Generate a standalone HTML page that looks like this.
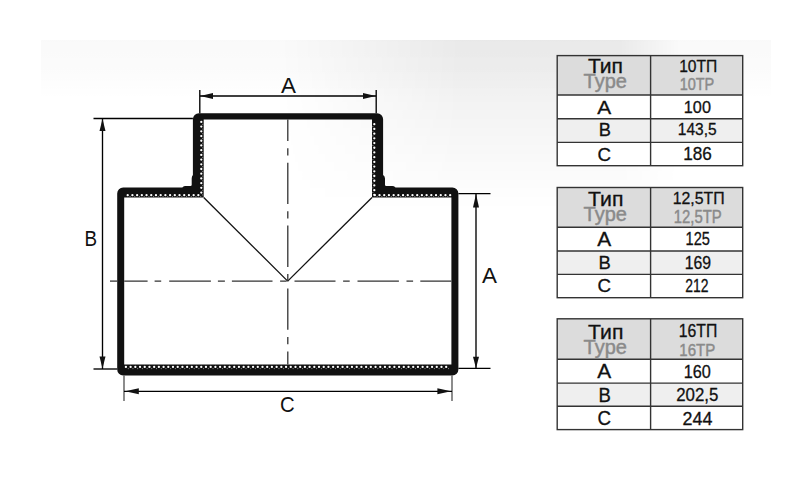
<!DOCTYPE html>
<html><head><meta charset="utf-8">
<style>
html,body{margin:0;padding:0;background:#fff;}
body{width:800px;height:500px;overflow:hidden;position:relative;}
svg{position:absolute;left:0;top:0;}
text{font-family:"Liberation Sans",sans-serif;}
</style></head>
<body>
<svg width="800" height="500" viewBox="0 0 800 500">
<defs>
  <filter id="blur3" x="-10%" y="-50%" width="120%" height="200%"><feGaussianBlur stdDeviation="1.5"/></filter>
  <linearGradient id="vfade" x1="0" y1="0" x2="0" y2="1">
    <stop offset="0" stop-color="#000" stop-opacity="0.065"/>
    <stop offset="0.35" stop-color="#000" stop-opacity="0.05"/>
    <stop offset="1" stop-color="#000" stop-opacity="0"/>
  </linearGradient>
  <linearGradient id="hfade" x1="0" y1="0" x2="1" y2="0">
    <stop offset="0" stop-color="#fff" stop-opacity="0"/>
    <stop offset="0.45" stop-color="#fff" stop-opacity="1"/>
    <stop offset="0.85" stop-color="#fff" stop-opacity="1"/>
    <stop offset="1" stop-color="#fff" stop-opacity="0"/>
  </linearGradient>
  <linearGradient id="bandfade" x1="0" y1="0" x2="0" y2="1">
    <stop offset="0" stop-color="#000" stop-opacity="0.022"/>
    <stop offset="0.55" stop-color="#000" stop-opacity="0.014"/>
    <stop offset="1" stop-color="#000" stop-opacity="0"/>
  </linearGradient>
  <mask id="hmask" maskUnits="userSpaceOnUse" x="0" y="0" width="800" height="500">
    <rect x="280" y="40" width="400" height="170" fill="url(#hfade)"/>
  </mask>
</defs>
<rect x="0" y="0" width="800" height="500" fill="#fff"/>
<rect x="41" y="40" width="730" height="60" fill="url(#bandfade)"/>
<rect x="280" y="40" width="400" height="170" fill="url(#vfade)" mask="url(#hmask)"/>

<!-- tee body -->
<path fill="#111" fill-rule="evenodd" d="M192.9,119.3 A6,6 0 0 1 198.9,113.3 L377.1,113.3 A6,6 0 0 1 383.1,119.3 L383.1,175 Q385,176.2 385,178.5 L385,184.8 Q385,186 386.2,186 L392.2,186 Q394,186 395.6,187.4 L452.4,187.4 A6,6 0 0 1 458.4,193.4 L458.4,369.6 A6,6 0 0 1 452.4,375.6 L123.2,375.6 A6,6 0 0 1 117.2,369.6 L117.2,193.4 A6,6 0 0 1 123.2,187.4 L182.3,187.4 Q183.8,186 185.5,186 L190.5,186 Q191.7,186 191.7,184.8 L191.7,178.5 Q191.7,176.3 192.9,175 Z
 M203.7,119.6 L203.7,197.5 L124.2,197.5 L124.2,364.6 L451.4,364.6 L451.4,197.5 L372,197.5 L372,119.6 Z"/>

<!-- dots -->
<g stroke="#fff" stroke-width="2.3" stroke-linecap="round" stroke-dasharray="0.01 4.7" fill="none">
  <line x1="201.3" y1="121.9" x2="201.3" y2="196"/>
  <line x1="374.3" y1="124.2" x2="374.3" y2="196"/>
  <line x1="127.7" y1="195.2" x2="201" y2="195.2"/>
  <line x1="374.8" y1="195.2" x2="450.5" y2="195.2"/>
  <line x1="125.9" y1="366.9" x2="450.5" y2="366.9"/>
</g>
<g stroke="#8a8a8a" stroke-width="1.2" stroke-linecap="round" stroke-dasharray="0.01 4.7" fill="none">
  <line x1="202.8" y1="124.3" x2="202.8" y2="196"/>
  <line x1="372.9" y1="126.55" x2="372.9" y2="196"/>
  <line x1="130.05" y1="196.5" x2="201" y2="196.5"/>
  <line x1="377.15" y1="196.5" x2="450.5" y2="196.5"/>
  <line x1="128.25" y1="368.6" x2="450.5" y2="368.6"/>
</g>

<!-- V lines -->
<g stroke="#111" stroke-width="1.3" fill="none">
  <line x1="203.7" y1="197.5" x2="287.7" y2="281.1"/>
  <line x1="372" y1="197.5" x2="287.7" y2="281.1"/>
</g>

<!-- center lines -->
<g stroke="#333" stroke-width="1.3" fill="none">
  <line x1="287.8" y1="119.6" x2="287.8" y2="364.6" stroke-dasharray="21.5 7.2 7.2 7.2 41.3 7.2 7.2 7.2 41.3 7.2 7.2 7.2 41.3 7.2 7.2 7.2 41.3 7.2 7.2 7.2 41.3"/>
  <line x1="110" y1="281.1" x2="117.2" y2="281.1"/>
  <line x1="124.2" y1="281.1" x2="451.4" y2="281.1" stroke-dasharray="23.4 7 6.6 8 41.7 7 7 7 40.6 7.6 6.6 7.8 41 7.6 6.6 7.8 41.4 7.6 6.6 7.2 41.4"/>
</g>

<!-- dimension lines -->
<g stroke="#000" stroke-width="1.35" fill="none">
  <line x1="199.8" y1="90" x2="199.8" y2="113.3"/>
  <line x1="376.2" y1="90" x2="376.2" y2="113.3"/>
  <line x1="200" y1="96" x2="376" y2="96"/>
  <line x1="93.5" y1="118.5" x2="192.9" y2="118.5"/>
  <line x1="93.5" y1="369" x2="117.2" y2="369"/>
  <line x1="102.5" y1="118.5" x2="102.5" y2="369"/>
  <line x1="458.4" y1="193.6" x2="490.5" y2="193.6"/>
  <line x1="458.4" y1="368.4" x2="490.5" y2="368.4"/>
  <line x1="476" y1="193.6" x2="476" y2="368.4"/>
  <line x1="124" y1="375.6" x2="124" y2="401" stroke="#555"/>
  <line x1="452" y1="375.6" x2="452" y2="401" stroke="#555"/>
  <line x1="124" y1="391.3" x2="452" y2="391.3"/>
</g>
<g fill="#111">
  <path d="M200.2,96 L213,93 L213,99 Z"/>
  <path d="M375.8,96 L363,93 L363,99 Z"/>
  <path d="M102.5,118.7 L99.5,131 L105.5,131 Z"/>
  <path d="M102.5,368.8 L99.5,356.5 L105.5,356.5 Z"/>
  <path d="M476,194 L473,207.5 L479,207.5 Z"/>
  <path d="M476,368.2 L473,356.8 L479,356.8 Z"/>
  <path d="M125.2,391.3 L138.8,388.3 L138.8,394.3 Z"/>
  <path d="M451,391.3 L437.4,388.3 L437.4,394.3 Z"/>
</g>

<g><text transform="translate(281.00,92.60) scale(0.9918,1)" font-size="22.61" fill="#111" stroke="#fff" stroke-width="0.00">A</text>
<text transform="translate(84.49,245.60) scale(0.8454,1)" font-size="22.32" fill="#111" stroke="#fff" stroke-width="0.00">B</text>
<text transform="translate(482.00,283.00) scale(0.9793,1)" font-size="22.90" fill="#111" stroke="#fff" stroke-width="0.00">A</text>
<text transform="translate(279.98,411.57) scale(0.9016,1)" font-size="22.54" fill="#111" stroke="#fff" stroke-width="0.00">C</text></g>
<rect x="557.2" y="55.6" width="185.5" height="110.1" fill="#fff"/>
<rect x="557.2" y="55.6" width="185.5" height="39.4" fill="#dcdcdc"/>
<rect x="557.2" y="118.8" width="185.5" height="23.6" fill="#efefef"/>
<g stroke="#333" stroke-width="1.4" fill="none">
<rect x="557.2" y="55.6" width="185.5" height="110.1"/>
<line x1="650.6" y1="55.6" x2="650.6" y2="165.7"/>
<line x1="557.2" y1="95.0" x2="742.7" y2="95.0"/>
<line x1="557.2" y1="118.8" x2="742.7" y2="118.8"/>
<line x1="557.2" y1="142.4" x2="742.7" y2="142.4"/>
</g>
<text transform="translate(587.88,72.70) scale(1.0853,1)" font-size="19.42" fill="#111" stroke="#111" stroke-width="0.30">Тип</text>
<text transform="translate(583.60,88.41) scale(1.0294,1)" font-size="19.43" fill="#8a8a8a" stroke="#8a8a8a" stroke-width="0.45">Type</text>
<text transform="translate(679.15,72.04) scale(0.9557,1)" font-size="16.34" fill="#111" stroke="#111" stroke-width="0.30">10ТП</text>
<text transform="translate(679.64,89.64) scale(0.8883,1)" font-size="16.34" fill="#8a8a8a" stroke="#8a8a8a" stroke-width="0.45">10ТР</text>
<text transform="translate(597.30,113.70) scale(1.1098,1)" font-size="18.84" fill="#111" stroke="#111" stroke-width="0.30">A</text>
<text transform="translate(683.80,113.03) scale(0.9619,1)" font-size="16.90" fill="#111" stroke="#111" stroke-width="0.30">100</text>
<text transform="translate(598.64,135.90) scale(1.0351,1)" font-size="17.68" fill="#111" stroke="#111" stroke-width="0.30">B</text>
<text transform="translate(677.76,135.33) scale(0.9354,1)" font-size="16.62" fill="#111" stroke="#111" stroke-width="0.30">143,5</text>
<text transform="translate(597.56,160.61) scale(0.9778,1)" font-size="19.15" fill="#111" stroke="#111" stroke-width="0.30">C</text>
<text transform="translate(683.23,160.02) scale(0.9584,1)" font-size="17.89" fill="#111" stroke="#111" stroke-width="0.30">186</text>
<rect x="557.2" y="187.5" width="185.5" height="110.2" fill="#fff"/>
<rect x="557.2" y="187.5" width="185.5" height="39.8" fill="#dcdcdc"/>
<rect x="557.2" y="251.0" width="185.5" height="23.4" fill="#efefef"/>
<g stroke="#333" stroke-width="1.4" fill="none">
<rect x="557.2" y="187.5" width="185.5" height="110.2"/>
<line x1="650.6" y1="187.5" x2="650.6" y2="297.7"/>
<line x1="557.2" y1="227.3" x2="742.7" y2="227.3"/>
<line x1="557.2" y1="251.0" x2="742.7" y2="251.0"/>
<line x1="557.2" y1="274.4" x2="742.7" y2="274.4"/>
</g>
<text transform="translate(588.08,206.00) scale(1.0837,1)" font-size="19.57" fill="#111" stroke="#111" stroke-width="0.30">Тип</text>
<text transform="translate(583.60,221.31) scale(1.0370,1)" font-size="19.29" fill="#8a8a8a" stroke="#8a8a8a" stroke-width="0.45">Type</text>
<text transform="translate(672.73,204.03) scale(0.9233,1)" font-size="17.18" fill="#111" stroke="#111" stroke-width="0.30">12,5ТП</text>
<text transform="translate(673.81,222.82) scale(0.8456,1)" font-size="17.61" fill="#8a8a8a" stroke="#8a8a8a" stroke-width="0.45">12,5ТР</text>
<text transform="translate(597.30,245.80) scale(1.0848,1)" font-size="19.28" fill="#111" stroke="#111" stroke-width="0.30">A</text>
<text transform="translate(685.53,245.32) scale(0.8187,1)" font-size="17.89" fill="#111" stroke="#111" stroke-width="0.30">125</text>
<text transform="translate(598.52,269.00) scale(0.9814,1)" font-size="18.84" fill="#111" stroke="#111" stroke-width="0.30">B</text>
<text transform="translate(684.64,268.62) scale(0.8891,1)" font-size="17.75" fill="#111" stroke="#111" stroke-width="0.30">169</text>
<text transform="translate(597.56,292.42) scale(1.0230,1)" font-size="18.31" fill="#111" stroke="#111" stroke-width="0.30">C</text>
<text transform="translate(685.20,292.30) scale(0.7874,1)" font-size="17.71" fill="#111" stroke="#111" stroke-width="0.30">212</text>
<rect x="557.2" y="318.8" width="185.5" height="110.8" fill="#fff"/>
<rect x="557.2" y="318.8" width="185.5" height="40.5" fill="#dcdcdc"/>
<rect x="557.2" y="383.1" width="185.5" height="23.2" fill="#efefef"/>
<g stroke="#333" stroke-width="1.4" fill="none">
<rect x="557.2" y="318.8" width="185.5" height="110.8"/>
<line x1="650.6" y1="318.8" x2="650.6" y2="429.6"/>
<line x1="557.2" y1="359.3" x2="742.7" y2="359.3"/>
<line x1="557.2" y1="383.1" x2="742.7" y2="383.1"/>
<line x1="557.2" y1="406.3" x2="742.7" y2="406.3"/>
</g>
<text transform="translate(588.08,338.50) scale(1.0376,1)" font-size="20.43" fill="#111" stroke="#111" stroke-width="0.30">Тип</text>
<text transform="translate(583.60,354.30) scale(1.0219,1)" font-size="19.57" fill="#8a8a8a" stroke="#8a8a8a" stroke-width="0.45">Type</text>
<text transform="translate(678.74,337.32) scale(0.8968,1)" font-size="17.61" fill="#111" stroke="#111" stroke-width="0.30">16ТП</text>
<text transform="translate(679.30,355.63) scale(0.8684,1)" font-size="17.32" fill="#8a8a8a" stroke="#8a8a8a" stroke-width="0.45">16ТР</text>
<text transform="translate(597.30,378.30) scale(1.0687,1)" font-size="19.57" fill="#111" stroke="#111" stroke-width="0.30">A</text>
<text transform="translate(683.70,377.62) scale(0.9018,1)" font-size="18.03" fill="#111" stroke="#111" stroke-width="0.30">160</text>
<text transform="translate(598.52,401.90) scale(0.9521,1)" font-size="19.42" fill="#111" stroke="#111" stroke-width="0.30">B</text>
<text transform="translate(676.16,401.32) scale(0.9201,1)" font-size="18.31" fill="#111" stroke="#111" stroke-width="0.30">202,5</text>
<text transform="translate(597.56,425.21) scale(0.9637,1)" font-size="19.44" fill="#111" stroke="#111" stroke-width="0.30">C</text>
<text transform="translate(682.50,425.00) scale(0.9505,1)" font-size="18.86" fill="#111" stroke="#111" stroke-width="0.30">244</text>
</svg>
</body></html>
